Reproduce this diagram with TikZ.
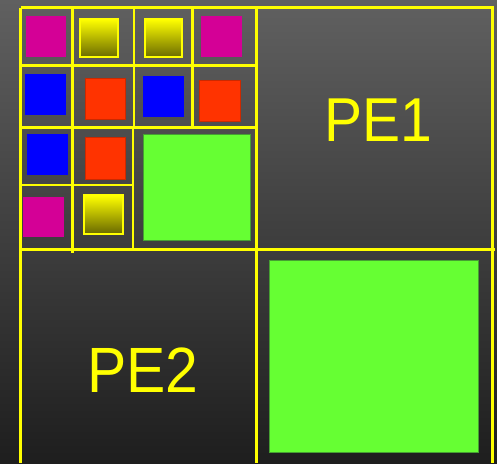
\documentclass[tikz,border=0pt]{standalone}
\usepackage{fontspec}
\setmainfont{Liberation Sans}
\definecolor{bgtop}{RGB}{96,96,96}
\definecolor{bgbot}{RGB}{30,30,30}
\definecolor{grid}{RGB}{255,255,0}
\definecolor{mag}{RGB}{212,0,150}
\definecolor{blu}{RGB}{0,0,255}
\definecolor{redd}{RGB}{255,51,0}
\definecolor{grn}{RGB}{102,255,51}
\definecolor{grnedge}{RGB}{70,160,50}
\definecolor{oliv}{RGB}{105,105,0}
\begin{document}
\begin{tikzpicture}[x=1pt,y=-1pt,
  gridline/.style={draw=grid,line width=2.7pt},
  magsq/.style={fill=mag},
  blusq/.style={fill=blu},
  redsq/.style={fill=redd,draw=redd!80!black,line width=0.5pt},
  grnsq/.style={fill=grn,draw=grnedge,line width=0.8pt},
  yelsq/.style={top color=grid,bottom color=oliv,draw=grid,line width=2.2pt},
  label/.style={text=grid,inner sep=0pt,anchor=center,xscale=0.92}]
\shade[top color=bgtop,bottom color=bgbot] (0,0) rectangle (497,463);
\useasboundingbox (0,0) rectangle (497,463);
% small squares
\fill[magsq] (25.7,16) rectangle (65.7,56.7);
\fill[magsq] (201.3,16) rectangle (241.7,57);
\fill[magsq] (23.3,196.7) rectangle (64,237);
\fill[blusq] (25.3,74) rectangle (66,115);
\fill[blusq] (143.3,76.3) rectangle (184,117);
\fill[blusq] (27,134) rectangle (68,175);
\path[redsq] (85.7,78.3) rectangle (125.7,119);
\path[redsq] (199.3,80) rectangle (240,121);
\path[redsq] (85.3,137.7) rectangle (125.7,179);
\path[yelsq] (80.3,19.3) rectangle (118.3,57.3);
\path[yelsq] (144.7,19.3) rectangle (182.3,57.3);
\path[yelsq] (84.3,195.3) rectangle (122.7,233.7);
\path[grnsq] (143.3,134.3) rectangle (250,240.7);
\path[grnsq] (269.3,260.3) rectangle (478,452.7);
% grid lines
\draw[gridline] (20.5,7.6) -- (493.5,7.6);
\draw[gridline] (20.5,7.6) -- (20.5,463);
\draw[gridline] (492.4,7.6) -- (492.4,463);
\draw[gridline] (256.6,7.6) -- (256.6,463);
\draw[gridline] (20.5,249.3) -- (495,249.3);
\draw[gridline] (20.5,65.7) -- (256.6,65.7);
\draw[gridline] (20.5,127.7) -- (256.6,127.7);
\draw[gridline] (72.7,7.6) -- (72.7,253);
\draw[gridline] (134,7.6) -- (134,128);
\draw[gridline] (133,128) -- (133,248);
\draw[gridline] (192.7,7.6) -- (192.7,127.7);
\draw[gridline] (20.5,185) -- (133,185);
% labels
\node[label,font=\fontsize{62}{62}\selectfont] (pe1) at (378.7,120) {PE1};
\node[label,font=\fontsize{64}{64}\selectfont] (pe2) at (143,369.7) {PE2};
\end{tikzpicture}
\end{document}
